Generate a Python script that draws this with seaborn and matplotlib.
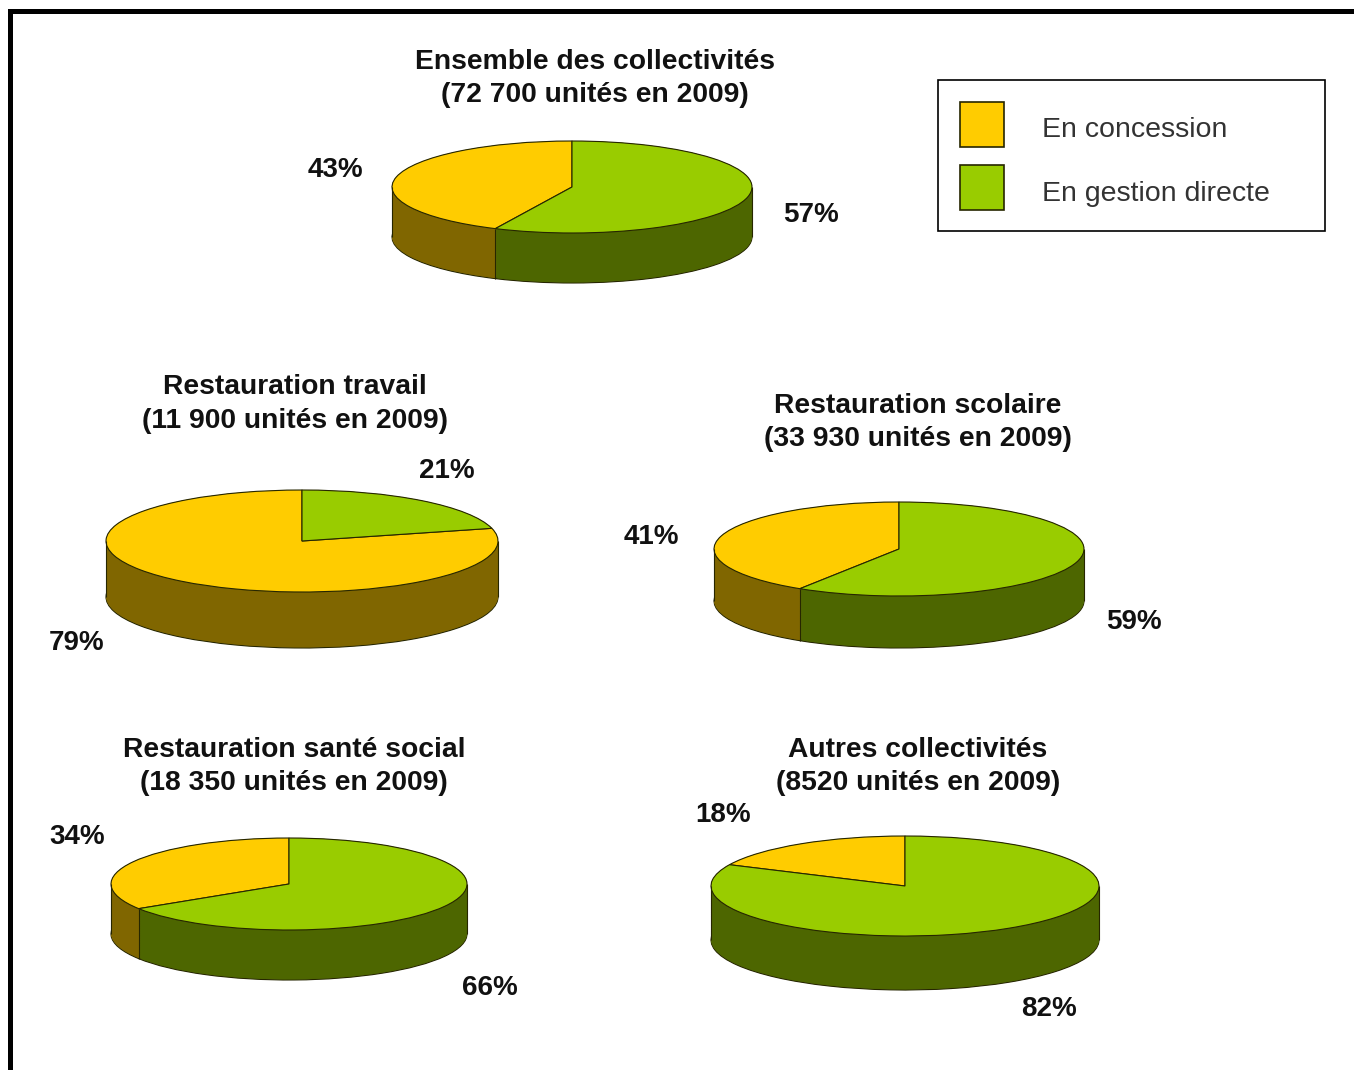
import numpy as np
import matplotlib
matplotlib.use('Agg')
import matplotlib.pyplot as plt
from matplotlib.patches import Patch, Rectangle
import seaborn as sns

# Data
titles = ['Ensemble des collectivités', 'Restauration travail', 'Restauration scolaire',
          'Restauration santé social', 'Autres collectivités']
units = ['72 700', '11 900', '33 930', '18 350', '8520']
concession = [43, 79, 41, 34, 18]
directe = [57, 21, 59, 66, 82]
legend_labels = ['En concession', 'En gestion directe']

# Layout in pixels of the picture
W, H = 1354, 1070
pie_boxes = [(572, 187, 180, 46, 50), (302, 541, 196, 51, 56), (899, 549, 185, 47, 52),
             (289, 884, 178, 46, 50), (905, 886, 194, 50, 54)]  # cx, cy, rx, ry, depth
title_pos = [(595, 62), (295, 387), (918, 406), (294, 750), (918, 750)]
conc_pos = [(335, 170), (77, 643), (651, 537), (77, 837), (723, 815)]
dir_pos = [(811, 215), (447, 471), (1134, 622), (490, 988), (1049, 1009)]

YELLOW, GREEN = '#FFCC00', '#99CC00'
DARK_YELLOW, DARK_GREEN = '#806600', '#4D6600'
EDGE = '#262600'

sns.set_theme(style='white')
plt.rcParams['font.family'] = ['Liberation Sans', 'DejaVu Sans']

fig = plt.figure(figsize=(W / 100, H / 100), dpi=100, facecolor='white')
bg = fig.add_axes([0, 0, 1, 1])
bg.set_xlim(0, W)
bg.set_ylim(H, 0)
bg.axis('off')

# frame of the picture, open on the right and at the bottom
bg.plot([9.5, 9.5, W], [H, 10.5, 10.5], color='black', lw=3.6, solid_joinstyle='miter')

for i in range(5):
    cx, cy, rx, ry, depth = pie_boxes[i]
    ax = fig.add_axes([(cx - rx) / W, 1 - (cy + ry + depth) / H, 2 * rx / W, (2 * ry + depth) / H])
    shares = [concession[i], directe[i]]
    d_unit = depth / ry
    kw = dict(startangle=90, counterclock=True)

    # side wall: dark pies stacked from the bottom up
    ax.pie(shares, colors=[DARK_YELLOW, DARK_GREEN], center=(0, -d_unit),
           wedgeprops=dict(edgecolor=EDGE, linewidth=0.8), **kw)
    for d in np.linspace(d_unit, 0, 80)[1:]:
        ax.pie(shares, colors=[DARK_YELLOW, DARK_GREEN], center=(0, -d),
               wedgeprops=dict(linewidth=0.6, edgecolor='none'), **kw)
    ax.vlines([-1, 1], -d_unit, 0, color=EDGE, lw=0.8)
    # seam between the two walls, only if it comes out at the front
    a = np.deg2rad(90 + 3.6 * concession[i])
    if np.sin(a) < 0:
        ax.vlines(np.cos(a), np.sin(a) - d_unit, np.sin(a), color=EDGE, lw=0.8)

    # top face
    ax.pie(shares, colors=[YELLOW, GREEN],
           wedgeprops=dict(edgecolor=EDGE, linewidth=0.8), **kw)
    ax.set_aspect('auto')
    ax.set_xlim(-1, 1)
    ax.set_ylim(-1 - d_unit, 1)
    for p in ax.patches + ax.collections:
        p.set_clip_on(False)

    tx, ty = title_pos[i]
    bg.text(tx, ty, titles[i], ha='center', va='center', fontsize=20.3, fontweight='bold', color='#111111')
    bg.text(tx, ty + 33.5, '(%s unités en 2009)' % units[i], ha='center', va='center',
            fontsize=20.3, fontweight='bold', color='#111111')
    bg.text(*conc_pos[i], '%d%%' % concession[i], ha='center', va='center', fontsize=20,
            fontweight='bold', color='#111111')
    bg.text(*dir_pos[i], '%d%%' % directe[i], ha='center', va='center', fontsize=20,
            fontweight='bold', color='#111111')

# Legend
bg.add_patch(Rectangle((938, 80), 387, 151, fill=False, edgecolor='black', lw=1.2))
handles = [Patch(facecolor=YELLOW, edgecolor=EDGE, lw=1.2),
           Patch(facecolor=GREEN, edgecolor=EDGE, lw=1.2)]
leg = fig.legend(handles, legend_labels, loc='upper left', bbox_to_anchor=(960 / W, 1 - 102 / H),
                 frameon=False, fontsize=20.5, borderpad=0, borderaxespad=0, handlelength=1.55,
                 handleheight=2.03, handletextpad=1.34, labelspacing=0.66, labelcolor='#333333')
for t in leg.get_texts():
    t.set_position((0, -4))

fig.savefig('out.png', dpi=100)
